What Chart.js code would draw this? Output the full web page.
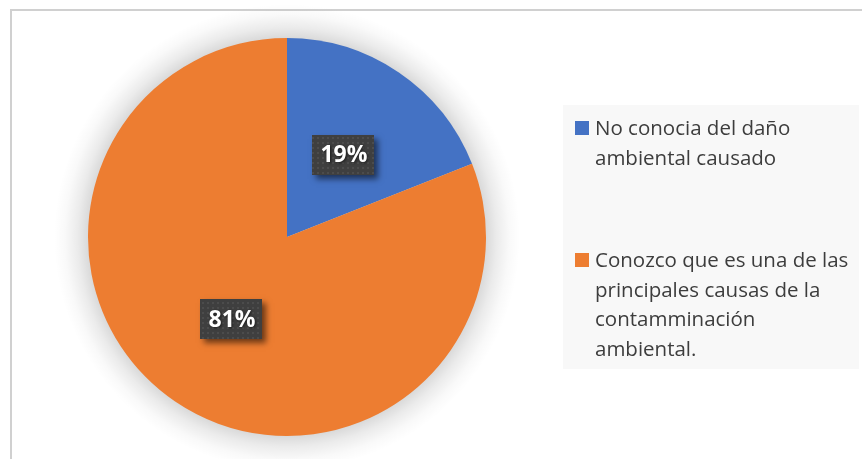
<!DOCTYPE html>
<html>
<head>
<meta charset="utf-8">
<script src="https://cdn.jsdelivr.net/npm/chart.js@4.4.1/dist/chart.umd.min.js"></script>
<style>
  html, body { margin: 0; padding: 0; background: #ffffff; }
  #wrap { width: 862px; height: 459px; position: relative; }
</style>
</head>
<body>
<div id="wrap"><canvas id="c" width="862" height="459"></canvas></div>
<script>
// Survey answers: awareness of the environmental damage
const categories = [
  ['No conocia del daño', 'ambiental causado'],
  ['Conozco que es una de las', 'principales causas de la', 'contamminación', 'ambiental.']
];
const percentages = [19, 81];
const sliceColors = ['#4472C4', '#ED7D31'];

const FONT = '"Open Sans", "Liberation Sans", sans-serif';

// Frame lines drawn behind everything
const framePlugin = {
  id: 'frame',
  beforeDraw(chart) {
    const ctx = chart.ctx;
    ctx.save();
    ctx.fillStyle = '#ffffff';
    ctx.fillRect(0, 0, chart.width, chart.height);
    ctx.fillStyle = '#d0d0d0';
    ctx.fillRect(10, 9, chart.width - 10, 2);
    ctx.fillRect(10, 9, 2, chart.height - 9);
    ctx.restore();
  }
};

// Soft glow ring around the pie
const glowPlugin = {
  id: 'glow',
  beforeDatasetsDraw(chart) {
    const arc = chart.getDatasetMeta(0).data[0];
    if (!arc) return;
    const ctx = chart.ctx;
    const r = arc.outerRadius, spread = 34;
    const g = ctx.createRadialGradient(arc.x, arc.y, r - 2, arc.x, arc.y, r + spread);
    g.addColorStop(0, 'rgba(0,0,0,0.16)');
    g.addColorStop(0.35, 'rgba(0,0,0,0.08)');
    g.addColorStop(0.7, 'rgba(0,0,0,0.025)');
    g.addColorStop(1, 'rgba(0,0,0,0)');
    ctx.save();
    ctx.fillStyle = g;
    ctx.beginPath();
    ctx.arc(arc.x, arc.y, r + spread, 0, Math.PI * 2);
    ctx.fill();
    ctx.restore();
  }
};

// Dark callout boxes with the percentage of each slice
function dotPattern(ctx) {
  const p = document.createElement('canvas');
  p.width = 5; p.height = 5;
  const pc = p.getContext('2d');
  pc.fillStyle = '#3f3f3f';
  pc.fillRect(0, 0, 5, 5);
  pc.fillStyle = '#4c4c4c';
  pc.fillRect(2, 2, 2, 2);
  return ctx.createPattern(p, 'repeat');
}

const valueLabelPlugin = {
  id: 'valueLabels',
  afterDatasetsDraw(chart) {
    const ctx = chart.ctx;
    const meta = chart.getDatasetMeta(0);
    const pattern = dotPattern(ctx);
    meta.data.forEach((arc, i) => {
      const c = arc.getCenterPoint();
      const w = 62, h = 40;
      const x = Math.round(c.x - w / 2), y = Math.round(c.y - h / 2);
      ctx.save();
      ctx.shadowColor = 'rgba(0,0,0,0.55)';
      ctx.shadowBlur = 6;
      ctx.shadowOffsetX = 4;
      ctx.shadowOffsetY = 4;
      ctx.fillStyle = '#3f3f3f';
      ctx.fillRect(x, y, w, h);
      ctx.restore();
      ctx.save();
      ctx.fillStyle = pattern;
      ctx.fillRect(x, y, w, h);
      ctx.font = 'bold 23px ' + FONT;
      ctx.textAlign = 'center';
      ctx.textBaseline = 'middle';
      ctx.shadowColor = 'rgba(0,0,0,0.6)';
      ctx.shadowBlur = 3;
      ctx.shadowOffsetX = 1;
      ctx.shadowOffsetY = 1;
      ctx.fillStyle = '#ffffff';
      ctx.fillText(percentages[i] + '%', c.x + 1, c.y + 1);
      ctx.restore();
    });
  }
};

// Legend panel on the right with wrapped category names
const legendPlugin = {
  id: 'sideLegend',
  afterDraw(chart) {
    const ctx = chart.ctx;
    ctx.save();
    ctx.fillStyle = '#f8f8f8';
    ctx.fillRect(563, 105, 296, 264);
    const labels = chart.data.labels;
    const colors = chart.data.datasets[0].backgroundColor;
    const firstBaselines = [135, 267];
    const lineH = 29.5;
    ctx.font = '20.5px ' + FONT;
    ctx.textBaseline = 'alphabetic';
    ctx.textAlign = 'left';
    labels.forEach((lines, i) => {
      const b = firstBaselines[i];
      ctx.fillStyle = colors[i];
      ctx.fillRect(575, b - 14, 14, 14);
      ctx.fillStyle = '#3d3d3d';
      lines.forEach((t, k) => ctx.fillText(t, 595, b + k * lineH));
    });
    ctx.restore();
  }
};

new Chart(document.getElementById('c'), {
  type: 'pie',
  data: {
    labels: categories,
    datasets: [{
      data: percentages,
      backgroundColor: sliceColors,
      borderWidth: 0
    }]
  },
  options: {
    responsive: false,
    animation: false,
    rotation: 0,
    layout: { padding: { left: 88, right: 376, top: 38, bottom: 23 } },
    plugins: {
      legend: { display: false },
      tooltip: { enabled: false }
    }
  },
  plugins: [framePlugin, glowPlugin, valueLabelPlugin, legendPlugin]
});
</script>
</body>
</html>
